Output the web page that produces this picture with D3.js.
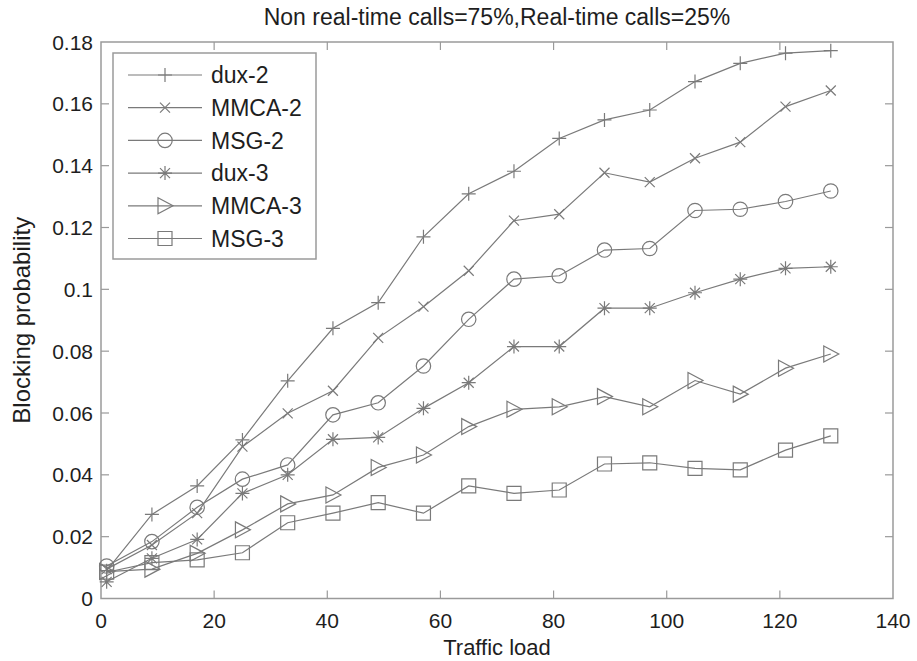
<!DOCTYPE html>
<html>
<head>
<meta charset="utf-8">
<script src="https://cdn.jsdelivr.net/npm/d3@7"></script>
<style>
  body { margin: 0; background: #fff; }
  svg { display: block; font-family: Arial, "Liberation Sans", Helvetica, sans-serif; }
</style>
</head>
<body>
<div id="chart"></div>
<script>
const width = 917;
const height = 661;

// Data
const loads = [1, 9, 17, 25, 33, 41, 49, 57, 65, 73, 81, 89, 97, 105, 113, 121, 129];
const dux2 = [0.0090, 0.0272, 0.0364, 0.0513, 0.0704, 0.0874, 0.0957, 0.1170, 0.1309, 0.1382, 0.1488, 0.1548, 0.1580, 0.1672, 0.1731, 0.1764, 0.1772];
const mmca2 = [0.0095, 0.0173, 0.0276, 0.0491, 0.0599, 0.0672, 0.0843, 0.0944, 0.1060, 0.1222, 0.1243, 0.1377, 0.1347, 0.1424, 0.1476, 0.1591, 0.1643];
const msg2 = [0.0105, 0.0184, 0.0295, 0.0386, 0.0432, 0.0594, 0.0633, 0.0752, 0.0903, 0.1033, 0.1044, 0.1127, 0.1132, 0.1255, 0.1259, 0.1284, 0.1318];
const dux3 = [0.0054, 0.0130, 0.0191, 0.0340, 0.0400, 0.0515, 0.0521, 0.0615, 0.0698, 0.0815, 0.0815, 0.0939, 0.0939, 0.0989, 0.1033, 0.1068, 0.1073];
const mmca3 = [0.0087, 0.0095, 0.0146, 0.0222, 0.0306, 0.0335, 0.0424, 0.0464, 0.0556, 0.0612, 0.0620, 0.0653, 0.0620, 0.0705, 0.0661, 0.0745, 0.0791];
const msg3 = [0.0085, 0.0116, 0.0125, 0.0148, 0.0245, 0.0276, 0.0310, 0.0276, 0.0364, 0.0340, 0.0351, 0.0435, 0.0439, 0.0421, 0.0416, 0.0480, 0.0526];

const seriesNames = ['dux-2', 'MMCA-2', 'MSG-2', 'dux-3', 'MMCA-3', 'MSG-3'];
const seriesValues = [dux2, mmca2, msg2, dux3, mmca3, msg3];
const seriesMarkers = ['plus', 'x', 'circle', 'star', 'triangle', 'square'];

const xTicks = [0, 20, 40, 60, 80, 100, 120, 140];
const yTicks = [0, 0.02, 0.04, 0.06, 0.08, 0.1, 0.12, 0.14, 0.16, 0.18];

const titleText = 'Non real-time calls=75%,Real-time calls=25%';
const xLabel = 'Traffic load';
const yLabel = 'Blocking probability';

const margin = { top: 42, right: 24, bottom: 62.5, left: 101 };
const lineColor = '#7a7a7a';
const axisColor = '#9a9a9a';
const textColor = '#1e1e1e';

const x = d3.scaleLinear().domain([0, 140]).range([margin.left, width - margin.right]);
const y = d3.scaleLinear().domain([0, 0.18]).range([height - margin.bottom, margin.top]);

const svg = d3.select('#chart').append('svg')
  .attr('width', width)
  .attr('height', height);

// Marker shapes as path strings centred on 0,0
const markerPath = (type) => {
  switch (type) {
    case 'plus': return 'M-7,0H7M0,-7V7';
    case 'x': return 'M-5,-5L5,5M-5,5L5,-5';
    case 'star': return 'M-7,0H7M0,-7V7M-5,-5L5,5M-5,5L5,-5';
    case 'circle': return 'M7.2,0A7.2,7.2 0 1,1 -7.2,0A7.2,7.2 0 1,1 7.2,0Z';
    case 'square': return 'M-7,-7H7V7H-7Z';
    case 'triangle': return 'M-7,-8L8,0L-7,8Z';
  }
};

const plot = svg.append('g');

// Box around plot area
plot.append('rect')
  .attr('x', x(0))
  .attr('y', y(0.18))
  .attr('width', x(140) - x(0))
  .attr('height', y(0) - y(0.18))
  .attr('fill', 'none')
  .attr('stroke', axisColor)
  .attr('stroke-width', 1.5);

// Ticks inward on all four sides
const tickG = plot.append('g').attr('stroke', axisColor).attr('stroke-width', 1.2);
xTicks.slice(1, -1).forEach((t) => {
  tickG.append('line').attr('x1', x(t)).attr('x2', x(t)).attr('y1', y(0)).attr('y2', y(0) - 8);
  tickG.append('line').attr('x1', x(t)).attr('x2', x(t)).attr('y1', y(0.18)).attr('y2', y(0.18) + 8);
});
yTicks.slice(1, -1).forEach((t) => {
  tickG.append('line').attr('x1', x(0)).attr('x2', x(0) + 8).attr('y1', y(t)).attr('y2', y(t));
  tickG.append('line').attr('x1', x(140)).attr('x2', x(140) - 8).attr('y1', y(t)).attr('y2', y(t));
});

// Tick labels
svg.append('g')
  .selectAll('text')
  .data(xTicks)
  .enter()
  .append('text')
  .attr('x', (d) => x(d))
  .attr('y', 628)
  .attr('text-anchor', 'middle')
  .attr('fill', textColor)
  .style('font-size', '21px')
  .text((d) => d);

svg.append('g')
  .selectAll('text')
  .data(yTicks)
  .enter()
  .append('text')
  .attr('x', 93)
  .attr('y', (d) => y(d))
  .attr('dy', '0.36em')
  .attr('text-anchor', 'end')
  .attr('fill', textColor)
  .style('font-size', '21px')
  .text((d) => (d === 0 ? '0' : d3.format('.2~f')(d)));

// Title and axis labels
svg.append('text')
  .attr('x', (x(0) + x(140)) / 2)
  .attr('y', 25)
  .attr('text-anchor', 'middle')
  .attr('fill', textColor)
  .style('font-size', '23px')
  .text(titleText);

svg.append('text')
  .attr('x', (x(0) + x(140)) / 2)
  .attr('y', 655)
  .attr('text-anchor', 'middle')
  .attr('fill', textColor)
  .style('font-size', '22px')
  .text(xLabel);

svg.append('text')
  .attr('transform', `translate(30,${(y(0) + y(0.18)) / 2}) rotate(-90)`)
  .attr('text-anchor', 'middle')
  .attr('fill', textColor)
  .style('font-size', '24px')
  .text(yLabel);

// Series lines and markers
const line = d3.line()
  .x((d, i) => x(loads[i]))
  .y((d) => y(d));

seriesValues.forEach((vals, s) => {
  const g = plot.append('g');
  g.append('path')
    .datum(vals)
    .attr('d', line)
    .attr('fill', 'none')
    .attr('stroke', lineColor)
    .attr('stroke-width', 1.2);

  g.selectAll('.marker')
    .data(vals)
    .enter()
    .append('path')
    .attr('class', 'marker')
    .attr('transform', (d, i) => `translate(${x(loads[i])},${y(d)})`)
    .attr('d', markerPath(seriesMarkers[s]))
    .attr('fill', 'none')
    .attr('stroke', lineColor)
    .attr('stroke-width', 1.2);
});

// Legend
const legend = svg.append('g');
legend.append('rect')
  .attr('x', 113)
  .attr('y', 53)
  .attr('width', 203)
  .attr('height', 206)
  .attr('fill', '#fff')
  .attr('stroke', axisColor)
  .attr('stroke-width', 1.5);

seriesNames.forEach((name, i) => {
  const cy = 75 + i * 32.7;
  const row = legend.append('g');
  row.append('line')
    .attr('x1', 128).attr('x2', 202)
    .attr('y1', cy).attr('y2', cy)
    .attr('stroke', lineColor)
    .attr('stroke-width', 1.2);
  row.append('path')
    .attr('transform', `translate(165,${cy})`)
    .attr('d', markerPath(seriesMarkers[i]))
    .attr('fill', 'none')
    .attr('stroke', lineColor)
    .attr('stroke-width', 1.2);
  row.append('text')
    .attr('x', 211)
    .attr('y', cy)
    .attr('dy', '0.36em')
    .attr('fill', textColor)
    .style('font-size', '23px')
    .text(name);
});
</script>
</body>
</html>
